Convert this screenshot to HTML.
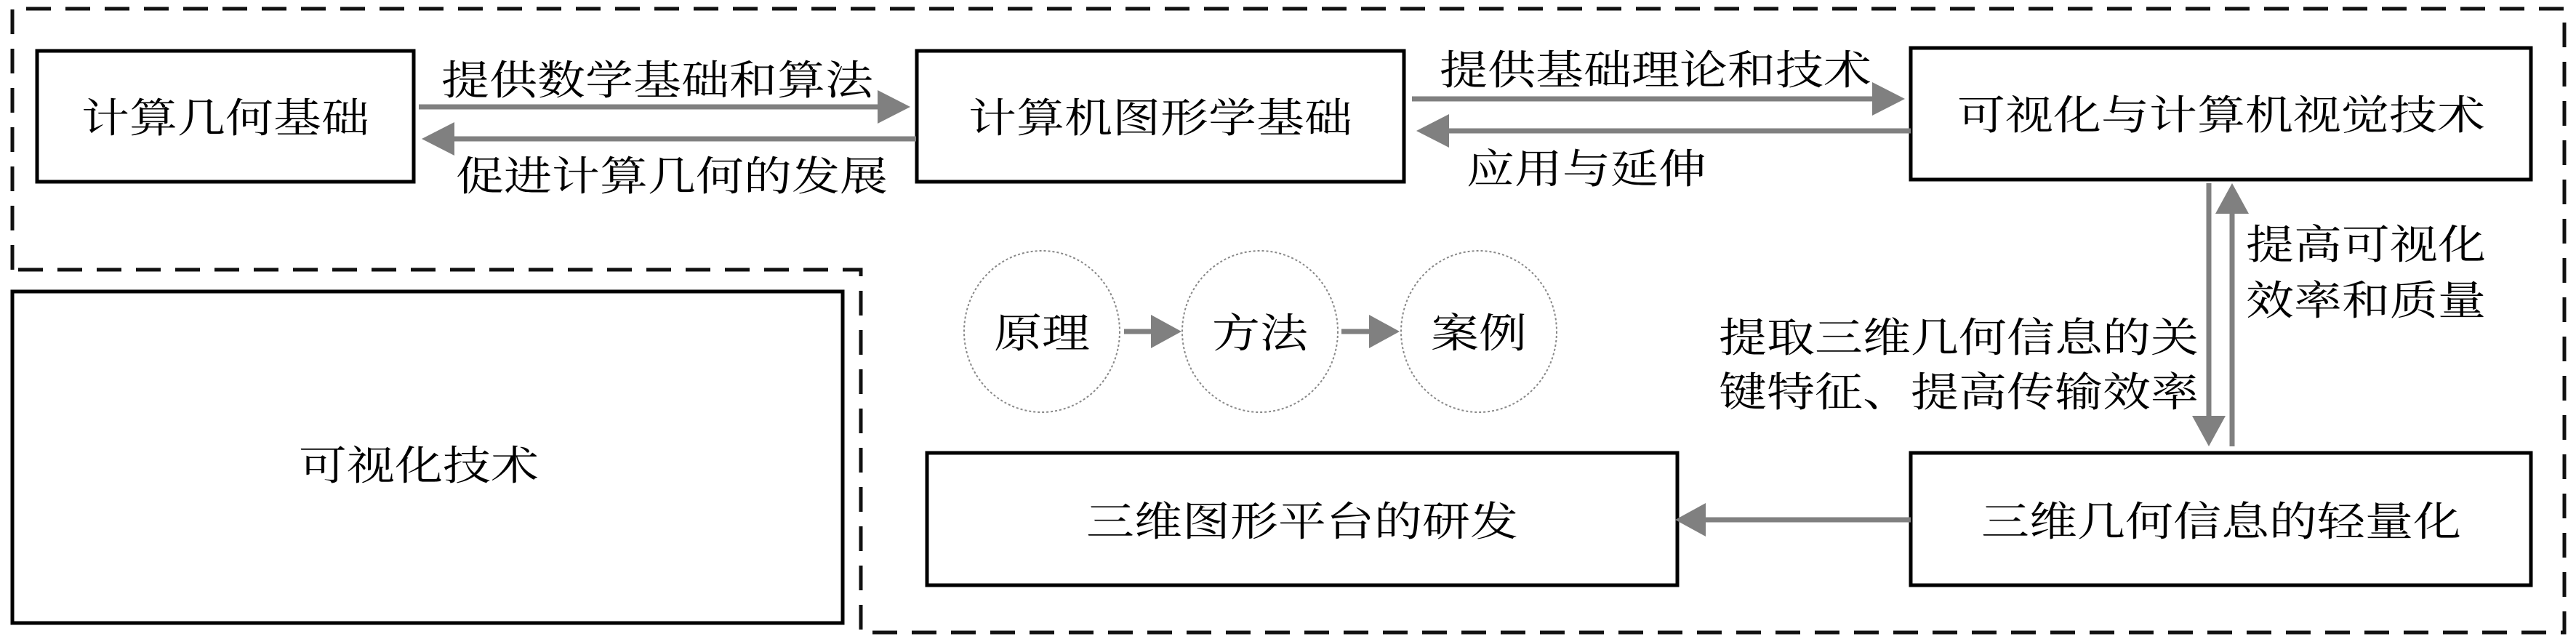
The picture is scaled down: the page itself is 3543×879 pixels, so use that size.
<!DOCTYPE html>
<html><head><meta charset="utf-8"><style>
html,body{margin:0;padding:0;background:#fff;}
svg{display:block;}
text{font-family:"Liberation Serif","Noto Serif CJK SC","Noto Sans CJK SC",serif;fill:#000;}
</style></head><body>
<svg width="3543" height="879" viewBox="0 0 3543 879" xmlns="http://www.w3.org/2000/svg">
<defs>
<marker id="ah" markerWidth="10" markerHeight="10" refX="9" refY="5" orient="auto" markerUnits="userSpaceOnUse" viewBox="0 0 10 10">
</marker>
</defs>
<!-- dashed outline -->
<g fill="none" stroke="#111" stroke-width="5" stroke-dasharray="34 20">
<path d="M17 371 L17 12 L3527 12 L3527 870 L1184 870 L1184 371 L17 371"/>
</g>
<!-- boxes -->
<g fill="#fff" stroke="#000" stroke-width="5">
<rect x="51" y="70" width="518" height="180"/>
<rect x="1261" y="70" width="670" height="180"/>
<rect x="2628" y="66" width="853" height="181"/>
<rect x="17" y="401" width="1142" height="456"/>
<rect x="1275" y="623" width="1032" height="182"/>
<rect x="2628" y="623" width="853" height="182"/>
</g>
<!-- circles -->
<g fill="none" stroke="#888" stroke-width="2" stroke-dasharray="3 3">
<ellipse cx="1433" cy="456" rx="107" ry="111"/>
<ellipse cx="1733" cy="456" rx="107" ry="111"/>
<ellipse cx="2034" cy="456" rx="107" ry="111"/>
</g>
<!-- arrows -->
<g stroke="#808080" stroke-width="7" fill="none">
<line x1="576" y1="147" x2="1210" y2="147"/>
<line x1="620" y1="191" x2="1260" y2="191"/>
<line x1="1942" y1="136" x2="2578" y2="136"/>
<line x1="1990" y1="180" x2="2628" y2="180"/>
<line x1="1546" y1="456" x2="1590" y2="456"/>
<line x1="1845" y1="456" x2="1890" y2="456"/>
<line x1="3038" y1="252" x2="3038" y2="575"/>
<line x1="3070" y1="290" x2="3070" y2="614"/>
<line x1="2345" y1="715" x2="2628" y2="715"/>
</g>
<g fill="#808080">
<polygon points="1207,124 1252,147 1207,170"/>
<polygon points="625,168 580,191 625,214"/>
<polygon points="2575,113 2620,136 2575,159"/>
<polygon points="1993,157 1948,180 1993,203"/>
<polygon points="1583,433 1625,456 1583,479"/>
<polygon points="1883,433 1925,456 1883,479"/>
<polygon points="3015,572 3038,614 3061,572"/>
<polygon points="3047,294 3070,252 3093,294"/>
<polygon points="2346,692 2304,715 2346,738"/>
</g>
<!-- text -->
<g font-size="66">
<text transform="translate(310,182) scale(1,0.85)" text-anchor="middle">计算几何基础</text>
<text transform="translate(1596,182) scale(1,0.85)" text-anchor="middle">计算机图形学基础</text>
<text transform="translate(3055,178) scale(1,0.85)" text-anchor="middle">可视化与计算机视觉技术</text>
<text transform="translate(576,660) scale(1,0.85)" text-anchor="middle">可视化技术</text>
<text transform="translate(1791,737) scale(1,0.85)" text-anchor="middle">三维图形平台的研发</text>
<text transform="translate(3055,737) scale(1,0.85)" text-anchor="middle">三维几何信息的轻量化</text>
<text transform="translate(1433,478) scale(1,0.85)" text-anchor="middle">原理</text>
<text transform="translate(1733,478) scale(1,0.85)" text-anchor="middle">方法</text>
<text transform="translate(2034,478) scale(1,0.85)" text-anchor="middle">案例</text>
</g>
<g font-size="66">
<text transform="translate(904,130) scale(1,0.85)" text-anchor="middle">提供数学基础和算法</text>
<text transform="translate(924,262) scale(1,0.85)" text-anchor="middle">促进计算几何的发展</text>
<text transform="translate(1980,116) scale(1,0.85)">提供基础理论和技术</text>
<text transform="translate(2017,252) scale(1,0.85)">应用与延伸</text>
<text transform="translate(3089,356) scale(1,0.85)">提高可视化</text>
<text transform="translate(3089,433) scale(1,0.85)">效率和质量</text>
<text transform="translate(3024,484) scale(1,0.85)" text-anchor="end">提取三维几何信息的关</text>
<text transform="translate(3024,559) scale(1,0.85)" text-anchor="end">键特征、提高传输效率</text>
</g>
</svg>
</body></html>
